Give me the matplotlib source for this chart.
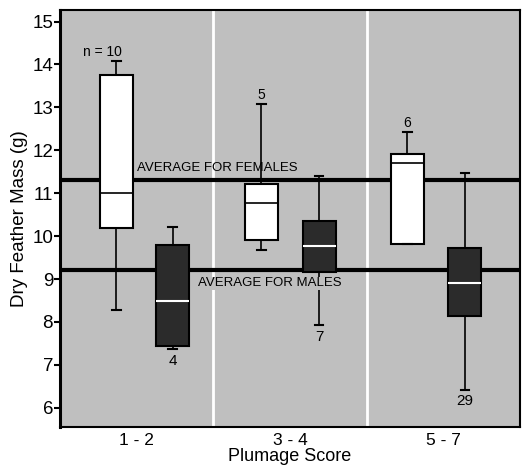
import matplotlib
matplotlib.use('Agg')
import matplotlib.pyplot as plt

# plumage score groups
groups = ['1 - 2', '3 - 4', '5 - 7']

# dry feather mass (g), box stats
fem_lo = [8.28, 9.68, 9.82]
fem_q1 = [10.18, 9.91, 9.82]
fem_med = [11.00, 10.78, 11.70]
fem_q3 = [13.76, 11.21, 11.91]
fem_hi = [14.07, 13.07, 12.42]
fem_n = ['n = 10', '5', '6']

mal_lo = [7.37, 7.93, 6.42]
mal_q1 = [7.44, 9.17, 8.14]
mal_med = [8.49, 9.78, 8.91]
mal_q3 = [9.79, 10.36, 9.72]
mal_hi = [10.22, 11.40, 11.47]
mal_n = ['4', '7', '29']

avg_females = 11.31
avg_males = 9.20

# layout
fem_pos = [0.868, 1.814, 2.766]
mal_pos = [1.234, 2.190, 3.140]
BOXW = 0.215
BG = '#bfbfbf'

plt.rcParams['font.family'] = ['Liberation Sans', 'DejaVu Sans']


def stats(lo, q1, med, q3, hi):
    return [dict(whislo=a, q1=b, med=c, q3=d, whishi=e, fliers=[])
            for a, b, c, d, e in zip(lo, q1, med, q3, hi)]


fig = plt.figure(figsize=(5.23, 4.72), dpi=100)
ax = fig.add_axes([0.1147, 0.0953, 0.8796, 0.8835])
ax.set_facecolor(BG)

for xd in [1.5, 2.5]:
    ax.axvline(xd, color='white', lw=2, zorder=1)

ax.axhline(avg_females, color='black', lw=3, zorder=2)
ax.axhline(avg_males, color='black', lw=3, zorder=2)

ax.bxp(stats(fem_lo, fem_q1, fem_med, fem_q3, fem_hi), positions=fem_pos,
       widths=BOXW, capwidths=0.055, patch_artist=True, showfliers=False,
       boxprops=dict(facecolor='white', edgecolor='black', lw=1.5),
       medianprops=dict(color='black', lw=1.2),
       whiskerprops=dict(color='black', lw=1.2),
       capprops=dict(color='black', lw=1.5), zorder=3)

ax.bxp(stats(mal_lo, mal_q1, mal_med, mal_q3, mal_hi), positions=mal_pos,
       widths=BOXW, capwidths=0.055, patch_artist=True, showfliers=False,
       boxprops=dict(facecolor='#2b2b2b', edgecolor='black', lw=1.5),
       medianprops=dict(color='white', lw=1.5),
       whiskerprops=dict(color='black', lw=1.2),
       capprops=dict(color='black', lw=1.5), zorder=3)

# sample sizes
for x, y, s in zip(fem_pos, fem_hi, fem_n):
    dx = -10 if s.startswith('n') else 0
    ax.annotate(s, (x, y), xytext=(dx, 6.5), textcoords='offset points',
                ha='center', va='center', fontsize=10, zorder=5)
for x, y, s in zip(mal_pos, mal_lo, mal_n):
    ax.annotate(s, (x, y), xytext=(0, -8.5), textcoords='offset points',
                ha='center', va='center', fontsize=11, zorder=5)

ax.text(1.0, avg_females + 0.13, 'AVERAGE FOR FEMALES',
        fontsize=9.5, ha='left', va='bottom', zorder=5)
ax.text(1.40, avg_males - 0.16, 'AVERAGE FOR MALES',
        fontsize=9.5, ha='left', va='top', zorder=5,
        bbox=dict(facecolor=BG, edgecolor='none', pad=0.5))

ax.set_xlim(0.5, 3.5)
ax.set_ylim(5.55, 15.27)
ax.set_yticks(range(6, 16))
ax.set_xticks([1, 2, 3])
ax.set_xticklabels(groups)
ax.tick_params(axis='y', direction='out', length=4, width=1.5, labelsize=13.5, pad=1)
ax.tick_params(axis='x', length=0, labelsize=12.5, pad=4)
for sp in ax.spines.values():
    sp.set_linewidth(1.5)
ax.spines['left'].set_linewidth(2.2)

ax.set_ylabel('Dry Feather Mass (g)', fontsize=13.5, labelpad=3)
ax.set_xlabel('Plumage Score', fontsize=13, labelpad=0)

fig.savefig('out.png', dpi=100, facecolor='white')
